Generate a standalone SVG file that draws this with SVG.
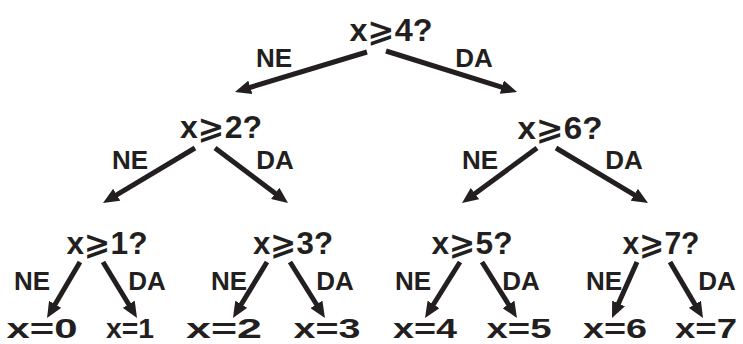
<svg xmlns="http://www.w3.org/2000/svg" width="743" height="344" viewBox="0 0 743 344">
<style>
.q{font-family:"Liberation Sans","DejaVu Sans",sans-serif;font-weight:bold;font-size:31px;fill:#231f20;text-anchor:middle}
.lf{font-family:"Liberation Sans","DejaVu Sans",sans-serif;font-weight:bold;font-size:28px;fill:#231f20;text-anchor:middle}
.lb{font-family:"Liberation Sans","DejaVu Sans",sans-serif;font-weight:bold;font-size:26px;fill:#231f20;text-anchor:middle}
.e{stroke:#231f20;stroke-width:5;fill:none;marker-end:url(#ah)}
</style>
<defs>
<marker id="ah" markerUnits="userSpaceOnUse" markerWidth="16" markerHeight="14" refX="4" refY="7" orient="auto"><path d="M0,0 L16,7 L0,14 Z" fill="#231f20"/></marker>
</defs>
<rect width="743" height="344" fill="#fff"/>
<g id="connectors">
<line class="e" x1="367" y1="52" x2="246.5" y2="88.5"/>
<line class="e" x1="386" y1="51" x2="505.6" y2="88.4"/>
<line class="e" x1="195" y1="148" x2="113.3" y2="196.8"/>
<line class="e" x1="215" y1="148" x2="278.4" y2="195.8"/>
<line class="e" x1="537" y1="148" x2="471.7" y2="195.9"/>
<line class="e" x1="556" y1="148" x2="637.7" y2="196.8"/>
<line class="e" x1="80" y1="262" x2="53.1" y2="307.7"/>
<line class="e" x1="103" y1="262" x2="130.8" y2="307.7"/>
<line class="e" x1="267" y1="262" x2="239.2" y2="307.7"/>
<line class="e" x1="290" y1="262" x2="318.6" y2="307.8"/>
<line class="e" x1="460" y1="262" x2="431.4" y2="307.8"/>
<line class="e" x1="482" y1="262" x2="510.6" y2="307.8"/>
<line class="e" x1="637" y1="262" x2="616.9" y2="307.0"/>
<line class="e" x1="670" y1="262" x2="696.9" y2="307.7"/>
</g>
<g id="edge-labels">
<text class="lb" x="274" y="67">NE</text>
<text class="lb" x="474" y="67">DA</text>
<text class="lb" x="130" y="169">NE</text>
<text class="lb" x="275" y="169">DA</text>
<text class="lb" x="480" y="169">NE</text>
<text class="lb" x="624" y="169">DA</text>
<text class="lb" x="32" y="290">NE</text>
<text class="lb" x="147" y="290">DA</text>
<text class="lb" x="229" y="290">NE</text>
<text class="lb" x="335" y="290">DA</text>
<text class="lb" x="413" y="290">NE</text>
<text class="lb" x="521" y="290">DA</text>
<text class="lb" x="604" y="290">NE</text>
<text class="lb" x="717" y="290">DA</text>
</g>
<g id="n4"><text class="q" x="391" y="41" textLength="83" lengthAdjust="spacingAndGlyphs">x⩾4?</text></g>
<g id="n2"><text class="q" x="221" y="138" textLength="82" lengthAdjust="spacingAndGlyphs">x⩾2?</text></g>
<g id="n6"><text class="q" x="560" y="139" textLength="85" lengthAdjust="spacingAndGlyphs">x⩾6?</text></g>
<g id="n1"><text class="q" x="107" y="254" textLength="81" lengthAdjust="spacingAndGlyphs">x⩾1?</text></g>
<g id="n3"><text class="q" x="293" y="254" textLength="80" lengthAdjust="spacingAndGlyphs">x⩾3?</text></g>
<g id="n5"><text class="q" x="472" y="254" textLength="81" lengthAdjust="spacingAndGlyphs">x⩾5?</text></g>
<g id="n7"><text class="q" x="661" y="254" textLength="77" lengthAdjust="spacingAndGlyphs">x⩾7?</text></g>
<g id="l0"><text class="lf" x="42" y="338" textLength="71" lengthAdjust="spacingAndGlyphs">x=0</text></g>
<g id="l1"><text class="lf" x="130" y="338" textLength="48" lengthAdjust="spacingAndGlyphs">x=1</text></g>
<g id="l2"><text class="lf" x="224" y="338" textLength="76" lengthAdjust="spacingAndGlyphs">x=2</text></g>
<g id="l3"><text class="lf" x="327" y="338" textLength="67" lengthAdjust="spacingAndGlyphs">x=3</text></g>
<g id="l4"><text class="lf" x="425" y="338" textLength="64" lengthAdjust="spacingAndGlyphs">x=4</text></g>
<g id="l5"><text class="lf" x="519" y="338" textLength="65" lengthAdjust="spacingAndGlyphs">x=5</text></g>
<g id="l6"><text class="lf" x="615" y="338" textLength="64" lengthAdjust="spacingAndGlyphs">x=6</text></g>
<g id="l7"><text class="lf" x="706" y="338" textLength="62" lengthAdjust="spacingAndGlyphs">x=7</text></g>
</svg>
